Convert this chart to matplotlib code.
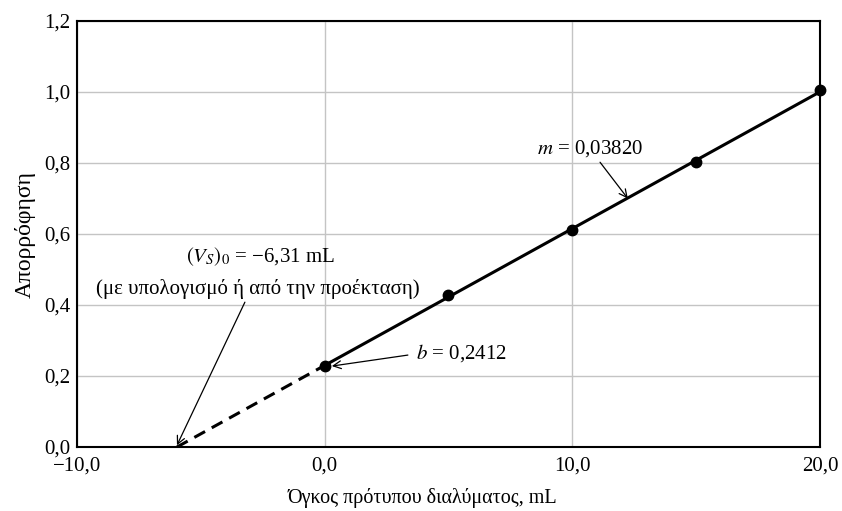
import numpy as np
import matplotlib
matplotlib.use("Agg")
import matplotlib.pyplot as plt

plt.rcParams['font.family'] = ['Liberation Serif', 'DejaVu Serif']
plt.rcParams['mathtext.fontset'] = 'stix'

# Data
volume = [0.0, 5.0, 10.0, 15.0, 20.0]          # mL standard added
absorb = [0.229, 0.428, 0.611, 0.803, 1.005]   # measured absorbance

x_ticks = [-10, 0, 10, 20]
x_labels = ['\u221210,0', '0,0', '10,0', '20,0']
y_ticks = [0.0, 0.2, 0.4, 0.6, 0.8, 1.0, 1.2]
y_labels = ['0,0', '0,2', '0,4', '0,6', '0,8', '1,0', '1,2']

slope, icept = np.polyfit(volume, absorb, 1)
x0 = -icept / slope  # extrapolated x-intercept

fig = plt.figure(figsize=(8.42, 5.11), dpi=100)
ax = fig.add_axes([0.0914, 0.1252, 0.8825, 0.8337])

# solid fit over the data, dashed extrapolation to zero
xs = np.array([volume[0], volume[-1]])
ax.plot(xs, icept + slope * xs, color='black', lw=2.2, zorder=3, clip_on=False)
xd = np.array([x0, volume[0]])
ax.plot(xd, icept + slope * xd, color='black', lw=2.2, ls=(0, (4, 2.5)), zorder=3)
ax.plot(volume, absorb, 'o', color='black', ms=7.5, zorder=4, clip_on=False)

ax.set_xlim(-10, 20)
ax.set_ylim(0, 1.2)
ax.set_xticks(x_ticks)
ax.set_xticklabels(x_labels)
ax.set_yticks(y_ticks)
ax.set_yticklabels(y_labels)
ax.tick_params(length=0, labelsize=15, pad=5)
ax.tick_params(axis='x', pad=7)
ax.grid(True, color='#c4c4c4', lw=1.0, zorder=0)
for s in ax.spines.values():
    s.set_linewidth(1.5)
    s.set_zorder(5)

ax.set_xlabel('Όγκος πρότυπου διαλύματος, mL', fontsize=14.5)
ax.xaxis.set_label_coords(0.465, -0.097)
ax.set_ylabel('Απορρόφηση', fontsize=17, labelpad=6)

arrow = dict(arrowstyle='->', color='black', lw=0.9,
             shrinkA=0, shrinkB=0, mutation_scale=14)

# slope annotation
ax.annotate(r'$m$ = 0,03820', xy=(12.24, 0.70), xytext=(10.71, 0.81),
            fontsize=15, ha='center', va='bottom', arrowprops=arrow)

# intercept annotation
ax.annotate('', xy=(0.29, 0.228), xytext=(3.36, 0.259), arrowprops=arrow)
ax.text(3.7, 0.265, r'$b$ = 0,2412', fontsize=15, ha='left', va='center')

# extrapolation annotation
ax.annotate('', xy=(x0, 0.005), xytext=(-3.22, 0.408), arrowprops=arrow)
ax.text(-2.6, 0.535, r'$(V_S)_0$ = ' + '\u22126,31 mL', fontsize=15,
        ha='center', va='center')
ax.text(-2.7, 0.446, '(με υπολογισμό ή από την προέκταση)', fontsize=15,
        ha='center', va='center')

fig.savefig('out.png', dpi=100)
